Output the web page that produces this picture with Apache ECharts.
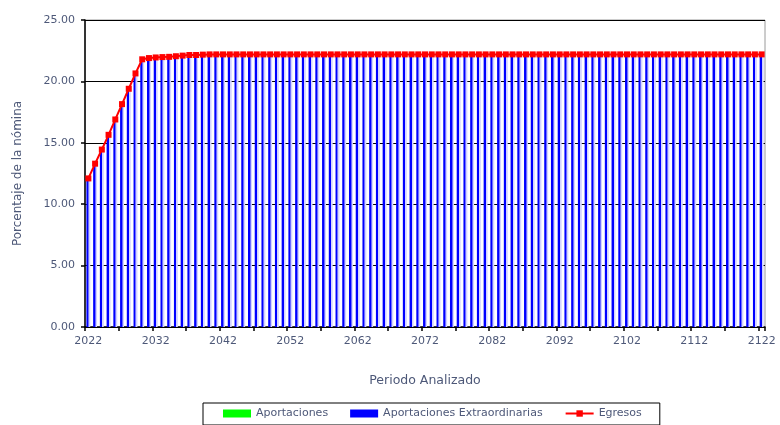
<!DOCTYPE html>
<html>
<head>
<meta charset="utf-8">
<script src="https://cdn.jsdelivr.net/npm/echarts@6/dist/echarts.min.js"></script>
<style>html,body{margin:0;padding:0;background:#fff}#c{width:780px;height:425px}</style>
</head>
<body>
<div id="c"></div>
<script>
var years = [
  '2022','2023','2024','2025','2026','2027','2028','2029','2030','2031',
  '2032','2033','2034','2035','2036','2037','2038','2039','2040','2041',
  '2042','2043','2044','2045','2046','2047','2048','2049','2050','2051',
  '2052','2053','2054','2055','2056','2057','2058','2059','2060','2061',
  '2062','2063','2064','2065','2066','2067','2068','2069','2070','2071',
  '2072','2073','2074','2075','2076','2077','2078','2079','2080','2081',
  '2082','2083','2084','2085','2086','2087','2088','2089','2090','2091',
  '2092','2093','2094','2095','2096','2097','2098','2099','2100','2101',
  '2102','2103','2104','2105','2106','2107','2108','2109','2110','2111',
  '2112','2113','2114','2115','2116','2117','2118','2119','2120','2121',
  '2122'
];
var aportaciones = [
  0,0,0,0,0,0,0,0,0,0,
  0,0,0,0,0,0,0,0,0,0,
  0,0,0,0,0,0,0,0,0,0,
  0,0,0,0,0,0,0,0,0,0,
  0,0,0,0,0,0,0,0,0,0,
  0,0,0,0,0,0,0,0,0,0,
  0,0,0,0,0,0,0,0,0,0,
  0,0,0,0,0,0,0,0,0,0,
  0,0,0,0,0,0,0,0,0,0,
  0,0,0,0,0,0,0,0,0,0,
  0
];
var aportacionesExtra = [
  12.1,13.3,14.45,15.65,16.9,18.15,19.4,20.65,21.8,21.9,
  21.95,21.98,22.0,22.05,22.1,22.15,22.15,22.18,22.2,22.2,
  22.2,22.2,22.2,22.2,22.2,22.2,22.2,22.2,22.2,22.2,
  22.2,22.2,22.2,22.2,22.2,22.2,22.2,22.2,22.2,22.2,
  22.2,22.2,22.2,22.2,22.2,22.2,22.2,22.2,22.2,22.2,
  22.2,22.2,22.2,22.2,22.2,22.2,22.2,22.2,22.2,22.2,
  22.2,22.2,22.2,22.2,22.2,22.2,22.2,22.2,22.2,22.2,
  22.2,22.2,22.2,22.2,22.2,22.2,22.2,22.2,22.2,22.2,
  22.2,22.2,22.2,22.2,22.2,22.2,22.2,22.2,22.2,22.2,
  22.2,22.2,22.2,22.2,22.2,22.2,22.2,22.2,22.2,22.2,
  22.2
];
var egresos = [
  12.1,13.3,14.45,15.65,16.9,18.15,19.4,20.65,21.8,21.9,
  21.95,21.98,22.0,22.05,22.1,22.15,22.15,22.18,22.2,22.2,
  22.2,22.2,22.2,22.2,22.2,22.2,22.2,22.2,22.2,22.2,
  22.2,22.2,22.2,22.2,22.2,22.2,22.2,22.2,22.2,22.2,
  22.2,22.2,22.2,22.2,22.2,22.2,22.2,22.2,22.2,22.2,
  22.2,22.2,22.2,22.2,22.2,22.2,22.2,22.2,22.2,22.2,
  22.2,22.2,22.2,22.2,22.2,22.2,22.2,22.2,22.2,22.2,
  22.2,22.2,22.2,22.2,22.2,22.2,22.2,22.2,22.2,22.2,
  22.2,22.2,22.2,22.2,22.2,22.2,22.2,22.2,22.2,22.2,
  22.2,22.2,22.2,22.2,22.2,22.2,22.2,22.2,22.2,22.2,
  22.2
];
var seriesNames = ['Aportaciones', 'Aportaciones Extraordinarias', 'Egresos'];
var yTicks = { min: 0, max: 25, interval: 5 };

var txt = '#4d5878';
var font = 'DejaVu Sans';
var chart = echarts.init(document.getElementById('c'), null, { renderer: 'canvas' });
chart.setOption({
  animation: false,
  backgroundColor: '#fff',
  textStyle: { fontFamily: font },
  grid: { left: 85, right: 15, top: 20, bottom: 98, show: true, borderColor: '#9a9a9a', borderWidth: 1, backgroundColor: 'transparent' },
  legend: {
    left: 203, top: 403,
    padding: [5, 18, 6, 20],
    borderColor: '#000', borderWidth: 1, backgroundColor: '#fff',
    itemWidth: 28, itemHeight: 8, itemGap: 22,
    textStyle: { fontFamily: font, fontSize: 11, color: txt },
    data: [
      { name: seriesNames[0], icon: 'rect', itemStyle: { color: '#00ff00' } },
      { name: seriesNames[1], icon: 'rect', itemStyle: { color: '#0000ff' } },
      { name: seriesNames[2] }
    ]
  },
  xAxis: {
    type: 'category',
    data: years,
    boundaryGap: true,
    name: 'Periodo Analizado',
    nameLocation: 'middle',
    nameGap: 47,
    nameTextStyle: { fontFamily: font, fontSize: 12.5, color: txt },
    axisLine: { lineStyle: { color: '#000', width: 1.5 } },
    axisTick: { show: true, interval: 4, length: 4, lineStyle: { color: '#000', width: 1.5 } },
    axisLabel: { interval: 9, fontFamily: font, fontSize: 11, color: txt, margin: 9 },
    splitLine: { show: false }
  },
  yAxis: {
    type: 'value',
    min: yTicks.min, max: yTicks.max, interval: yTicks.interval,
    name: 'Porcentaje de la nómina',
    nameLocation: 'middle',
    nameGap: 61,
    nameTextStyle: { fontFamily: font, fontSize: 12, color: txt },
    axisLine: { show: true, lineStyle: { color: '#000', width: 1.5 } },
    axisTick: { show: true, length: 4, lineStyle: { color: '#000', width: 1.5 } },
    axisLabel: { fontFamily: font, fontSize: 11, color: txt, margin: 10, formatter: function (v) { return v.toFixed(2); } },
    splitLine: { show: true, lineStyle: { color: '#000', width: 1.2 } }
  },
  series: [
    {
      name: seriesNames[0], type: 'bar', stack: 'a',
      data: aportaciones, barWidth: '58%',
      itemStyle: { color: '#00ff00' }
    },
    {
      name: seriesNames[1], type: 'bar', stack: 'a',
      data: aportacionesExtra, barWidth: '58%',
      itemStyle: {
        color: new echarts.graphic.LinearGradient(0, 0, 1, 0, [
          { offset: 0, color: '#0000ff' },
          { offset: 0.5, color: '#0000ff' },
          { offset: 0.5, color: '#7070ff' },
          { offset: 0.65, color: '#7070ff' },
          { offset: 0.65, color: '#d2d2ff' },
          { offset: 1, color: '#d2d2ff' }
        ])
      }
    },
    {
      name: seriesNames[2], type: 'line',
      data: egresos,
      symbol: 'rect', symbolSize: 6,
      showAllSymbol: true,
      lineStyle: { color: '#ff0000', width: 2 },
      itemStyle: { color: '#ff0000' },
      z: 5
    }
  ]
});
</script>
</body>
</html>
